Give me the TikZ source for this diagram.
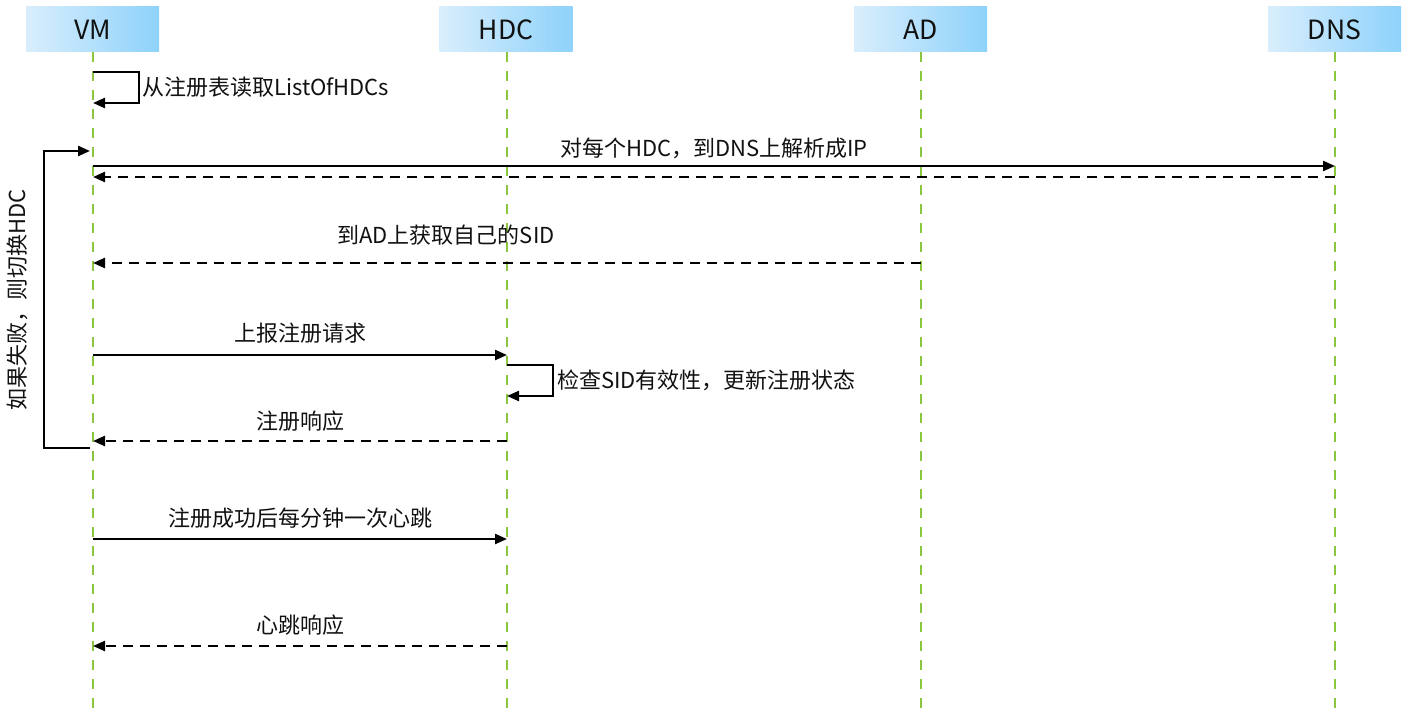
\documentclass[tikz,border=0pt]{standalone}
\usepackage{fontspec}
\setmainfont{Noto Sans CJK SC}
\usetikzlibrary{arrows.meta}
\definecolor{lifegreen}{HTML}{8CC63F}
\definecolor{hdrlight}{HTML}{D9EEFC}
\definecolor{hdrdark}{HTML}{8ED2FB}
\definecolor{ink}{HTML}{111111}
\tikzset{
  header/.style={minimum width=133pt, minimum height=45pt, inner sep=0pt,
    left color=hdrlight, right color=hdrdark, draw=none,
    font=\fontsize{26.5pt}{30pt}\selectfont, text=ink},
  lifeline/.style={lifegreen, line width=2.5pt, dash pattern=on 10pt off 9pt},
  msg/.style={line width=2.3pt, -{Triangle[length=12pt,width=10pt]}},
  reply/.style={msg, dash pattern=on 10pt off 7pt},
  lbl/.style={font=\fontsize{22pt}{25pt}\selectfont, text=ink, inner sep=0pt},
}
\begin{document}
\begin{tikzpicture}[x=1pt,y=-1pt]
\useasboundingbox (0,0) rectangle (1408,717);

% participants
\node[header] (vm)  at (92.5,29.5)  {VM};
\node[header] (hdc) at (506,29.5)   {HDC};
\node[header] (ad)  at (920.5,29.5) {AD};
\node[header] (dns) at (1334.5,29.5){DNS};

% lifelines
\coordinate (vmend)  at (93,717);
\coordinate (hdcend) at (507,717);
\coordinate (adend)  at (921,717);
\coordinate (dnsend) at (1335,717);
\draw[lifeline] (vm.south -| vmend)   -- (vmend);
\draw[lifeline] (hdc.south -| hdcend) -- (hdcend);
\draw[lifeline] (ad.south -| adend)   -- (adend);
\draw[lifeline] (dns.south -| dnsend) -- (dnsend);

% message end points
\coordinate (vm1)  at (93,72);   \coordinate (vm1b) at (93,103);
\coordinate (vm2)  at (93,166);  \coordinate (dns2) at (1335,166);
\coordinate (dns3) at (1335,177);\coordinate (vm3)  at (93,177);
\coordinate (ad4)  at (921,263); \coordinate (vm4)  at (93,263);
\coordinate (vm5)  at (93,355);  \coordinate (hdc5) at (507,355);
\coordinate (hdc6) at (507,365); \coordinate (hdc6b) at (507,396);
\coordinate (hdc7) at (507,441); \coordinate (vm7)  at (93,441);
\coordinate (vm8)  at (93,539);  \coordinate (hdc8) at (507,539);
\coordinate (hdc9) at (507,646); \coordinate (vm9)  at (93,646);
\coordinate (loopbot) at (90,448); \coordinate (looptop) at (90,151);

% self call on VM
\draw[msg] (vm1) -- ++(46,0) |- (vm1b);
\node[lbl, anchor=west] (l1) at (142,87) {从注册表读取ListOfHDCs};

% DNS lookup
\draw[msg] (vm2) -- (dns2);
\node[lbl] (l2) at (714,148) {对每个HDC，到DNS上解析成IP};
\draw[reply] (dns3) -- (vm3);

% SID from AD
\draw[reply] (ad4) -- (vm4);
\node[lbl] (l4) at (446,235) {到AD上获取自己的SID};

% registration request
\draw[msg] (vm5) -- (hdc5);
\node[lbl] (l5) at (300,333) {上报注册请求};

% self call on HDC
\draw[msg] (hdc6) -- ++(46,0) |- (hdc6b);
\node[lbl, anchor=west] (l6) at (557,380) {检查SID有效性，更新注册状态};

% registration response
\draw[reply] (hdc7) -- (vm7);
\node[lbl] (l7) at (300,421) {注册响应};

% retry loop
\draw[msg] (loopbot) -- ++(-46,0) |- (looptop);
\node[lbl, rotate=90] (l10) at (17,300) {如果失败，则切换HDC};

% heartbeat
\draw[msg] (vm8) -- (hdc8);
\node[lbl] (l8) at (300,518) {注册成功后每分钟一次心跳};
\draw[reply] (hdc9) -- (vm9);
\node[lbl] (l9) at (300,625) {心跳响应};
\end{tikzpicture}
\end{document}
